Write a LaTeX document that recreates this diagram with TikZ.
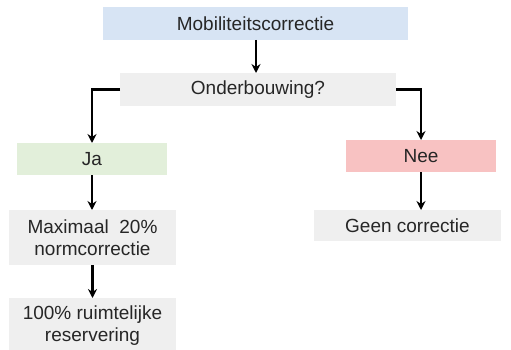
\documentclass[tikz,border=0pt]{standalone}
\usepackage{fontspec}
\setmainfont{Liberation Sans}
\usetikzlibrary{arrows.meta}
\definecolor{bblue}{HTML}{D7E4F4}
\definecolor{bgrey}{HTML}{EFEFEF}
\definecolor{bgreen}{HTML}{E2EFDA}
\definecolor{bpink}{HTML}{F8C2C2}
\definecolor{txt}{HTML}{262626}
\begin{document}
\begin{tikzpicture}[x=1pt,y=-1pt,
  box/.style={inner sep=0pt, outer sep=0pt, text=txt, font=\fontsize{19}{22}\selectfont, align=center},
  conn/.style={line width=2.6pt, black, -{Stealth[length=9pt,width=9pt]}}]
\useasboundingbox (0,0) rectangle (511,350);
\node[box, fill=bblue, minimum width=305pt, minimum height=33pt] (mob) at (255.5,23.5) {Mobiliteitscorrectie};
\node[box, fill=bgrey, minimum width=276pt, minimum height=33pt] (ond) at (258,89.5) {Onderbouwing?};
\node[box, fill=bgreen, minimum width=150pt, minimum height=32pt] (ja) at (92,159) {Ja};
\node[box, fill=bpink, minimum width=150pt, minimum height=32pt] (nee) at (421,156) {Nee};
\node[box, fill=bgrey, minimum width=167pt, minimum height=55pt] (max) at (92.5,237.5) {Maximaal\ \ 20\%\\normcorrectie};
\node[box, fill=bgrey, minimum width=187pt, minimum height=31pt] (geen) at (407.5,225.5) {Geen correctie};
\node[box, fill=bgrey, minimum width=167pt, minimum height=56pt, anchor=north] (res) at (92.5,298) {100\% ruimtelijke\\reservering};
\draw[conn] (mob.south -| 256,0) -- (ond.north -| 256,0);
\draw[conn] (ond.west) -- (ond.west -| ja.north) -- (ja.north);
\draw[conn] (ond.east) -- (ond.east -| nee.north) -- (nee.north);
\draw[conn] (ja.south) -- (max.north -| ja.south);
\draw[conn] (nee.south) -- (geen.north -| nee.south);
\draw[conn] (max.south) -- (res.north);
\end{tikzpicture}
\end{document}
